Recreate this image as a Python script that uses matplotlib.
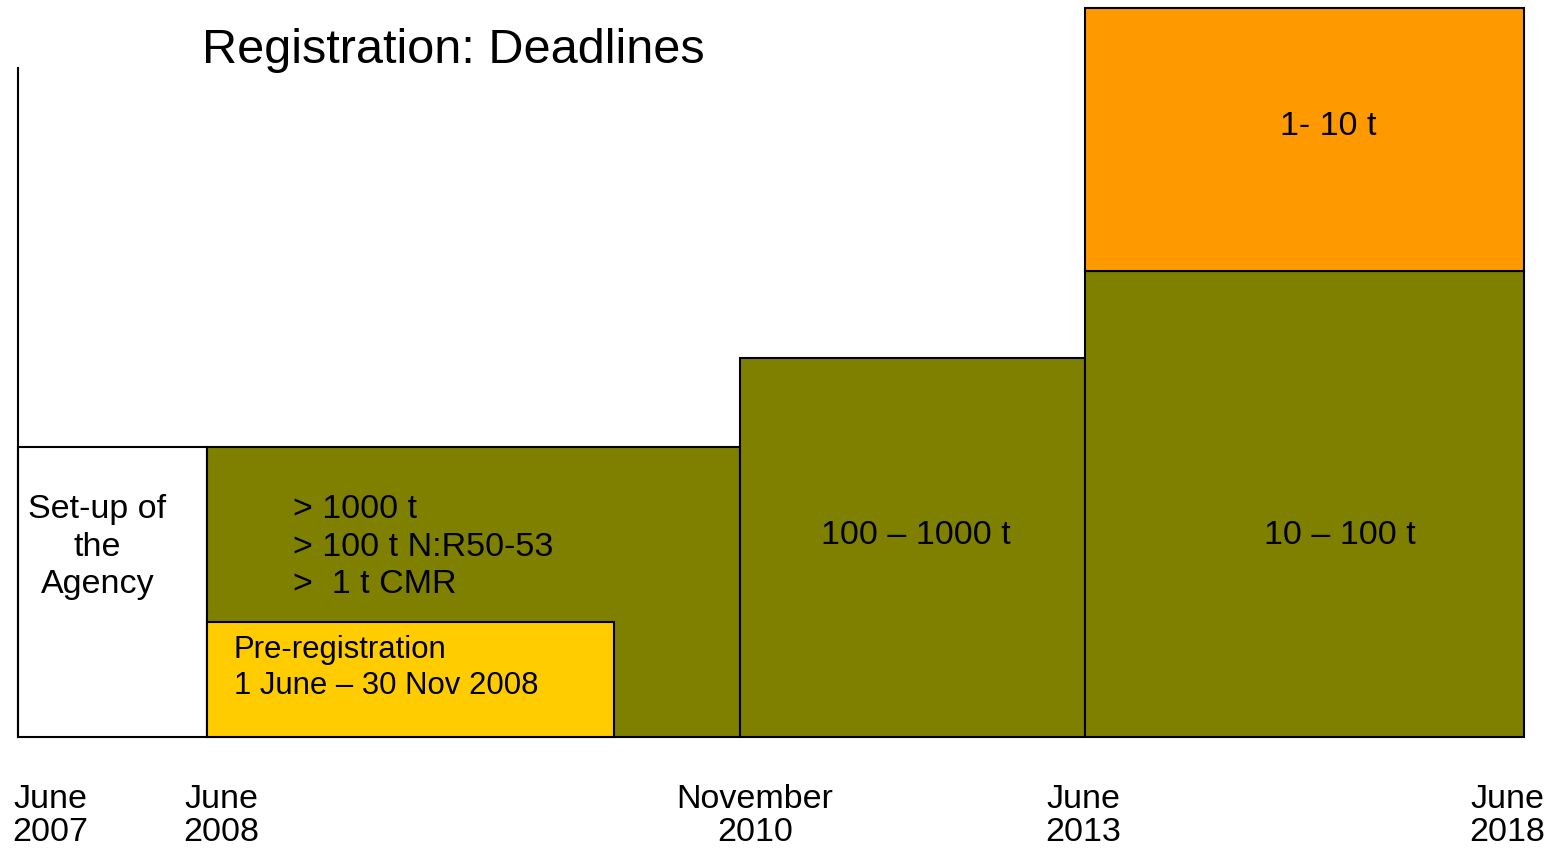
import numpy as np
import matplotlib.pyplot as plt

plt.rcParams['font.family'] = ['Liberation Sans', 'DejaVu Sans']

# schematic timeline (drawing units along the x axis)
milestones = ['June\n2007', 'June\n2008', 'November\n2010', 'June\n2013', 'June\n2018']
edges = [0, 189, 722, 1067, 1506]

# registration phases between milestones
phase_labels = ['Set-up of\nthe\nAgency',
                '> 1000 t\n> 100 t N:R50-53\n>  1 t CMR',
                '100 \u2013 1000 t',
                '10 \u2013 100 t']
phase_heights = [290, 290, 379, 466]
phase_colors = ['white', '#808000', '#808000', '#808000']

# 1-10 t band stacked on the last phase
top_label = '1- 10 t'
top_height = 263

# pre-registration window
prereg_label = 'Pre-registration\n1 June \u2013 30 Nov 2008'
prereg_start, prereg_end = 189, 596
prereg_height = 115

fig = plt.figure(figsize=(15.52, 8.5), dpi=100)
ax = fig.add_axes([0, 0, 1, 1])
ax.set_xlim(-18, 1534)
ax.set_ylim(-113, 737)

lefts = np.array(edges[:-1])
widths = np.diff(edges)
ax.bar(lefts, phase_heights, width=widths, align='edge',
       color=phase_colors, edgecolor='black', linewidth=1.5, zorder=2)
ax.bar(lefts[-1], top_height, width=widths[-1], bottom=phase_heights[-1],
       align='edge', color='#FF9900', edgecolor='black', linewidth=1.5, zorder=2)
ax.bar(prereg_start, prereg_height, width=prereg_end - prereg_start,
       align='edge', color='#FFCC00', edgecolor='black', linewidth=1.5, zorder=3)

# phase labels
fs = 24.5
ax.text(lefts[0] + widths[0] / 2 - 15, 190, phase_labels[0], ha='center', va='center',
        fontsize=fs, linespacing=1.28, zorder=4)
ax.text(lefts[1] + 86, 190, phase_labels[1], ha='left', va='center',
        fontsize=fs, linespacing=1.28, zorder=4)
ax.text(lefts[2] + widths[2] / 2 + 3, 201, phase_labels[2], ha='center', va='center',
        fontsize=fs, zorder=4)
ax.text(lefts[3] + widths[3] / 2 + 35, 201, phase_labels[3], ha='center', va='center',
        fontsize=fs, zorder=4)
ax.text(lefts[3] + widths[3] / 2 + 24, phase_heights[-1] + top_height * 0.55, top_label,
        ha='center', va='center', fontsize=fs, zorder=4)
ax.text(prereg_start + 27, prereg_height * 0.6, prereg_label, ha='left', va='center',
        fontsize=22.4, linespacing=1.22, zorder=4)

# milestone labels under the boundaries
offsets = [32, 14, 15, -2, -17]
for x, lab, off in zip(edges, milestones, offsets):
    ax.text(x + off, -79, lab, ha='center', va='center', fontsize=fs,
            linespacing=1.08, clip_on=False)

ax.text(184, 687, 'Registration: Deadlines', ha='left', va='center', fontsize=35)

for s in ['top', 'right', 'bottom']:
    ax.spines[s].set_visible(False)
ax.spines['left'].set_position(('data', 0))
ax.spines['left'].set_bounds(0, 669)
ax.spines['left'].set_linewidth(1.5)
ax.set_xticks([])
ax.set_yticks([])
ax.patch.set_visible(False)

fig.savefig('out.png', dpi=100)
